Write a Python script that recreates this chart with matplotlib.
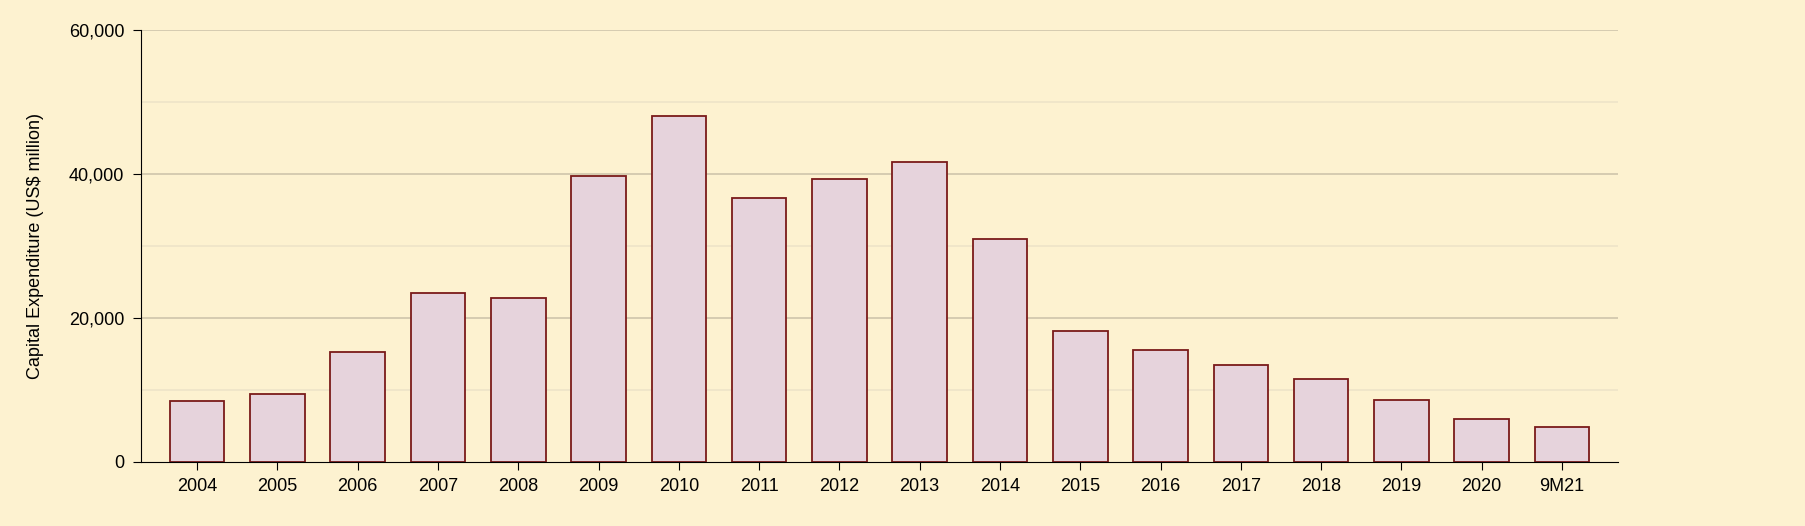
import matplotlib
matplotlib.use("Agg")
import matplotlib.pyplot as plt
plt.rcParams['font.family'] = ['Liberation Sans', 'DejaVu Sans']

categories = ["2004","2005","2006","2007","2008","2009","2010","2011","2012","2013",
              "2014","2015","2016","2017","2018","2019","2020","9M21"]
capex = [8500,9400,15200,23500,22700,39700,48000,36700,39300,41600,
         31000,18200,15500,13400,11500,8600,5900,4900]

bg = "#fdf2d0"
fig = plt.figure(figsize=(18.06,5.26), dpi=100, facecolor=bg)
ax = fig.add_axes([0.078,0.122,0.818,0.821], facecolor=bg)
for v in range(10000,60001,10000):
    ax.axhline(v, color="#d2c9ae" if v % 20000 == 0 else "#efe5c9", lw=1.3, zorder=0)
x = range(len(categories))
ax.bar(x, capex, width=0.68, color="#e6d3dc", edgecolor="#7a1a1a", linewidth=1.3, zorder=2)
ax.set_xticks(list(x)); ax.set_xticklabels(categories, fontsize=13)
ax.set_yticks([0,20000,40000,60000]); ax.set_yticklabels(["0","20,000","40,000","60,000"], fontsize=13)
ax.set_xlim(-0.7,17.7); ax.set_ylim(0,60000)
ax.set_ylabel("Capital Expenditure (US$ million)", fontsize=13, labelpad=18)
for s in ["top","right"]:
    ax.spines[s].set_visible(False)
ax.tick_params(length=6, pad=6)
fig.savefig("out.png", dpi=100, facecolor=bg)
